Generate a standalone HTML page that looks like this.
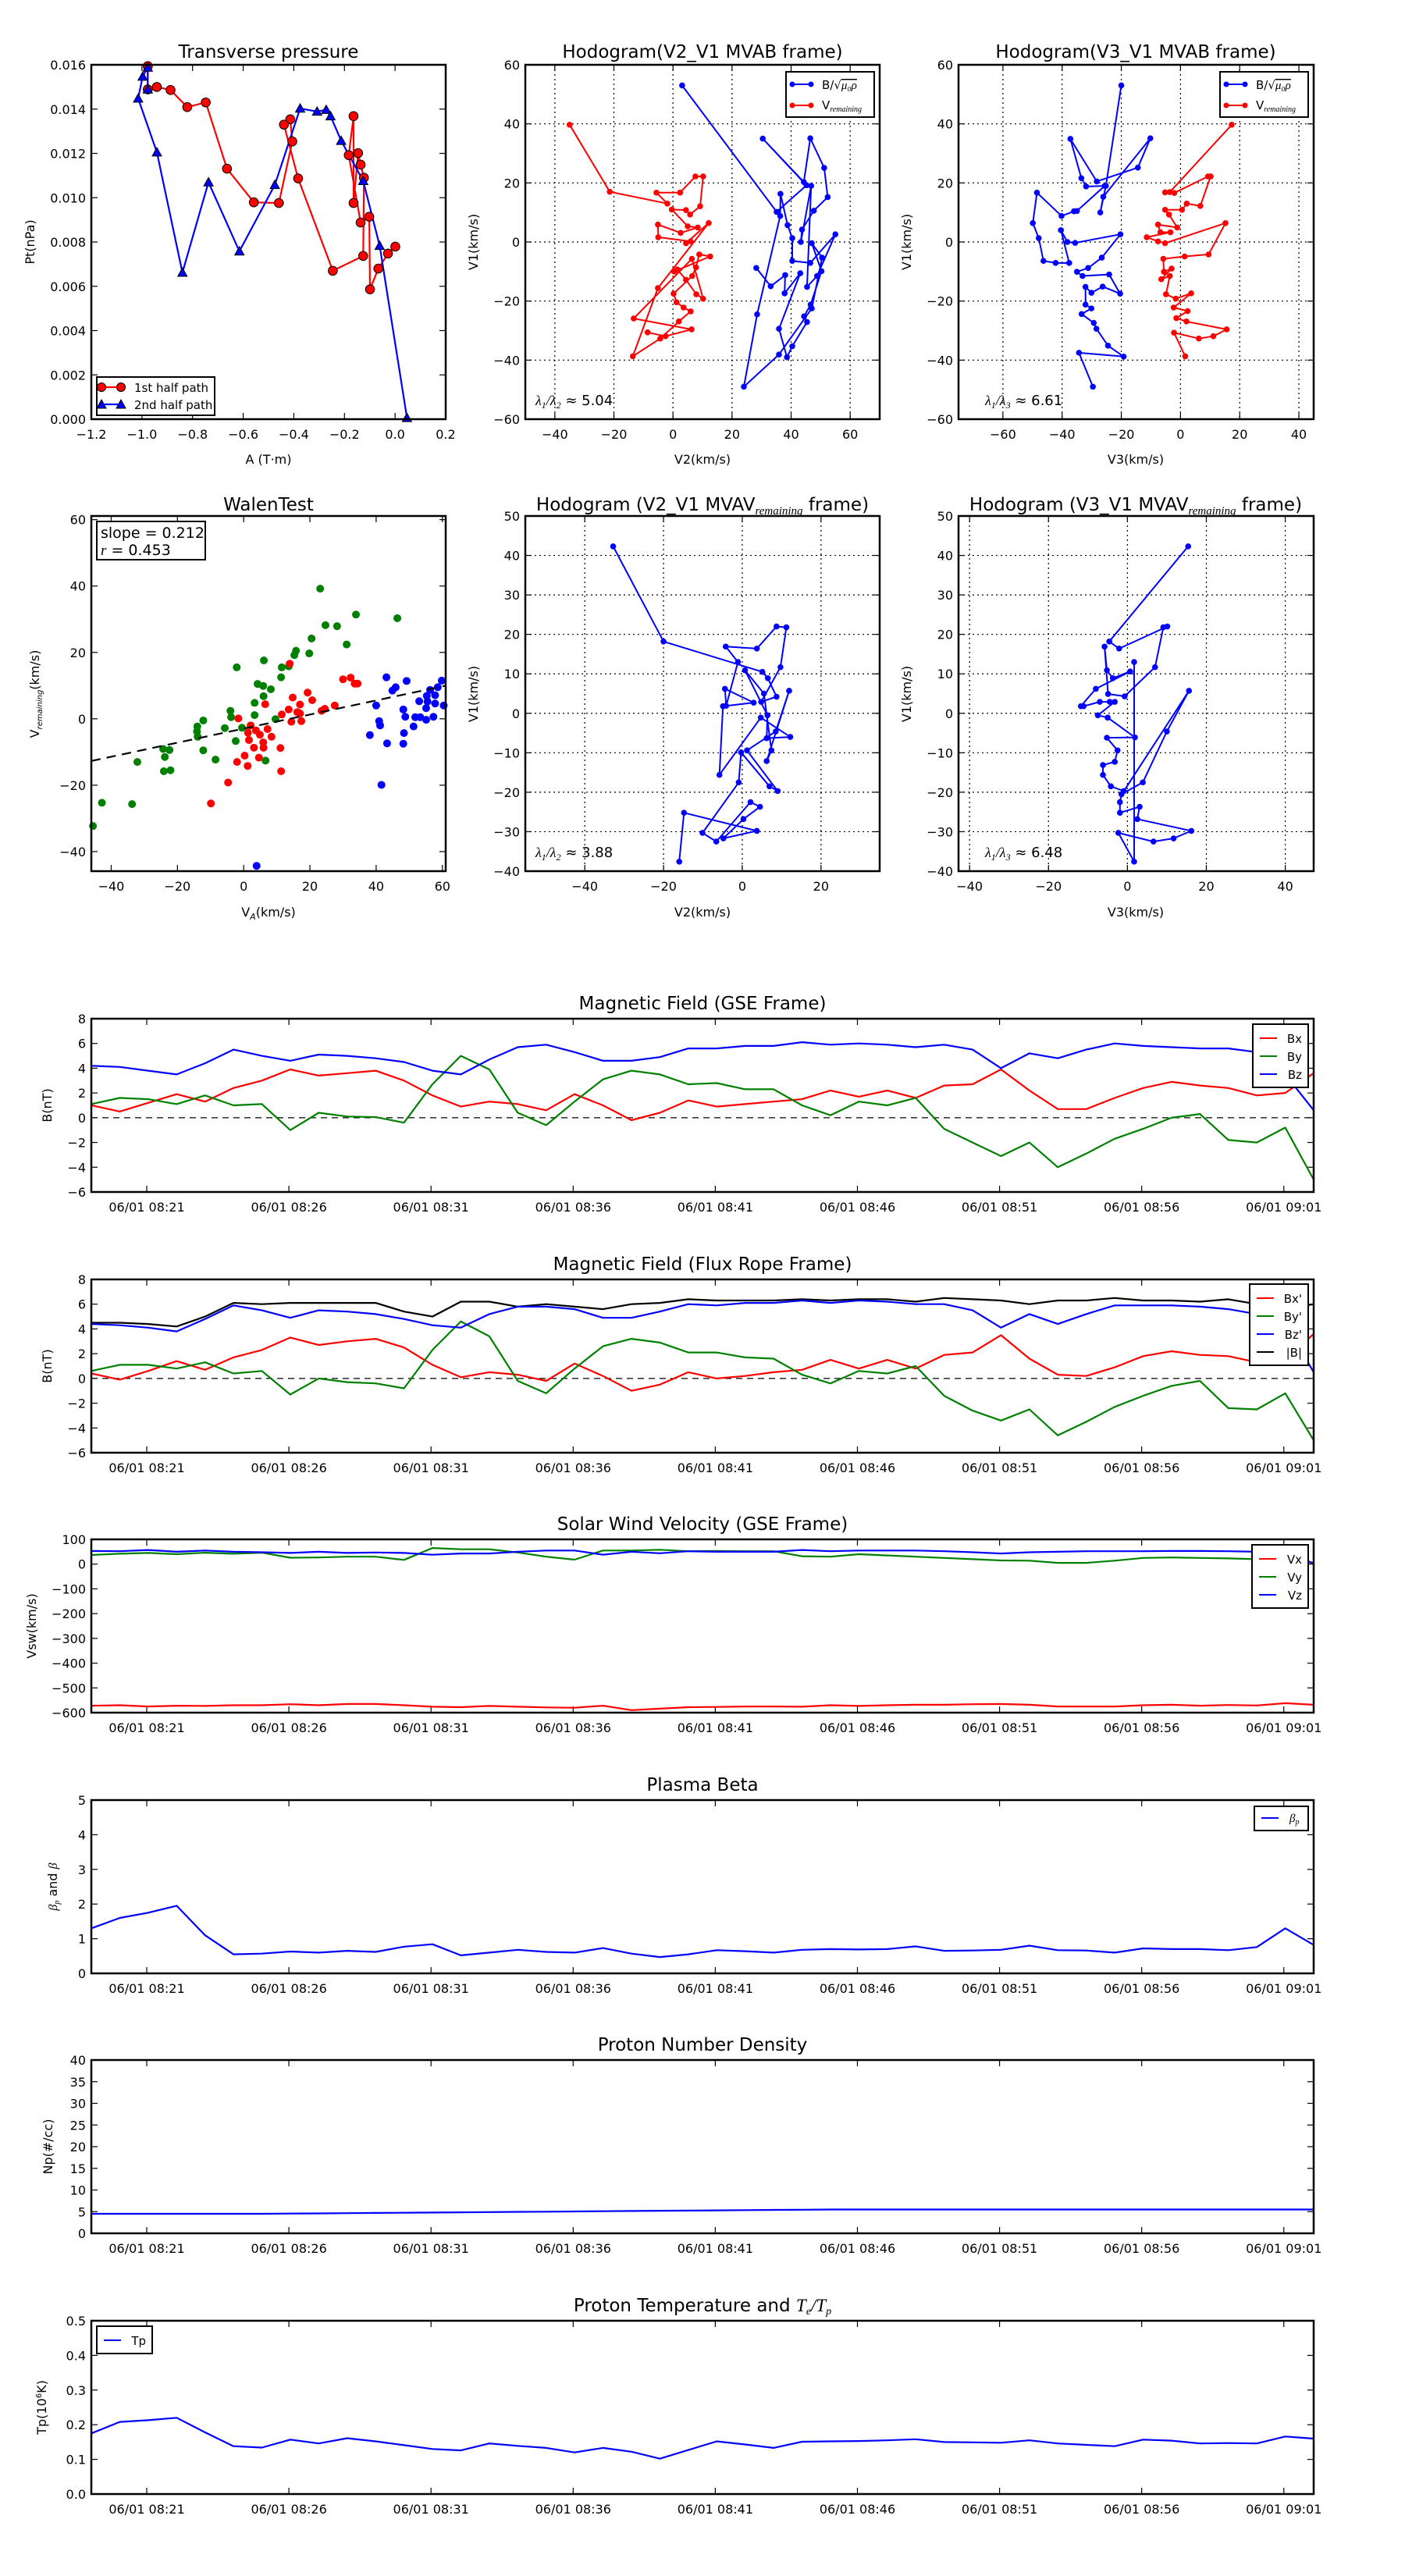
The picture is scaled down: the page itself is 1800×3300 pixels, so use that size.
<!DOCTYPE html>
<html><head><meta charset="utf-8">
<style>
html,body{margin:0;padding:0;background:#fff;}
svg{display:block;font-family:"DejaVu Sans","Liberation Sans",sans-serif;}
</style></head>
<body>
<svg id="fig" width="1800" height="3300" viewBox="0 0 1800 3300" xmlns="http://www.w3.org/2000/svg">
<rect x="0" y="0" width="1800" height="3300" fill="#fff"/>
</svg>
<script>
// ---------- time-series data (one sample per minute from ~08:19) ----------
const timeTickLabels = ["06/01 08:21","06/01 08:26","06/01 08:31","06/01 08:36","06/01 08:41","06/01 08:46","06/01 08:51","06/01 08:56","06/01 09:01"];
const bxGSE = [1.0,0.5,1.2,1.9,1.3,2.4,3.0,3.9,3.4,3.6,3.8,3.0,1.8,0.9,1.3,1.1,0.6,1.9,1.0,-0.2,0.4,1.4,0.9,1.1,1.3,1.5,2.2,1.7,2.2,1.6,2.6,2.7,3.9,2.2,0.7,0.7,1.6,2.4,2.9,2.6,2.4,1.8,2.0,3.6];
const byGSE = [1.1,1.6,1.5,1.1,1.8,1.0,1.1,-1.0,0.4,0.1,0.05,-0.4,2.7,5.0,3.9,0.4,-0.6,1.3,3.1,3.8,3.5,2.7,2.8,2.3,2.3,1.0,0.2,1.3,1.0,1.6,-0.9,-2.0,-3.1,-2.0,-4.0,-2.9,-1.7,-0.9,0.0,0.3,-1.8,-2.0,-0.8,-5.0];
const bzGSE = [4.2,4.1,3.8,3.5,4.4,5.5,5.0,4.6,5.1,5.0,4.8,4.5,3.8,3.5,4.7,5.7,5.9,5.3,4.6,4.6,4.9,5.6,5.6,5.8,5.8,6.1,5.9,6.0,5.9,5.7,5.9,5.5,4.0,5.2,4.8,5.5,6.0,5.8,5.7,5.6,5.6,5.3,3.5,0.6];
const bxFR = [0.4,-0.1,0.6,1.4,0.7,1.7,2.3,3.3,2.7,3.0,3.2,2.5,1.1,0.1,0.5,0.3,-0.2,1.2,0.2,-1.0,-0.5,0.5,0.0,0.2,0.5,0.7,1.5,0.8,1.5,0.8,1.9,2.1,3.5,1.6,0.3,0.2,0.9,1.8,2.2,1.9,1.8,1.3,1.5,3.6];
const byFR = [0.6,1.1,1.1,0.8,1.3,0.4,0.6,-1.3,0.0,-0.3,-0.4,-0.8,2.3,4.6,3.4,-0.2,-1.2,0.8,2.6,3.2,2.9,2.1,2.1,1.7,1.6,0.3,-0.4,0.6,0.4,1.0,-1.4,-2.6,-3.4,-2.5,-4.6,-3.5,-2.3,-1.4,-0.6,-0.2,-2.4,-2.5,-1.2,-5.0];
const bzFR = [4.4,4.3,4.1,3.8,4.8,5.9,5.5,4.9,5.5,5.4,5.2,4.8,4.3,4.1,5.2,5.8,5.8,5.6,4.9,4.9,5.4,6.0,5.9,6.1,6.1,6.3,6.1,6.3,6.2,6.0,6.0,5.5,4.1,5.2,4.4,5.2,5.9,5.9,5.9,5.8,5.6,5.2,4.5,0.5];
const bmagFR = [4.5,4.5,4.4,4.2,5.0,6.1,6.0,6.1,6.1,6.1,6.1,5.4,5.0,6.2,6.2,5.8,6.0,5.8,5.6,6.0,6.1,6.4,6.3,6.3,6.3,6.4,6.3,6.4,6.4,6.2,6.5,6.4,6.3,6.0,6.3,6.3,6.5,6.3,6.3,6.2,6.4,6.0,5.6,6.0];
const vxSW = [-572,-570,-575,-572,-573,-570,-570,-566,-570,-565,-565,-570,-576,-578,-573,-576,-579,-580,-572,-590,-584,-578,-577,-575,-575,-576,-570,-573,-570,-568,-568,-566,-565,-568,-575,-575,-575,-570,-568,-572,-569,-571,-562,-568];
const vySW = [37,42,45,40,46,42,46,26,27,30,30,17,65,60,60,47,30,18,55,55,58,52,53,52,52,32,30,40,35,30,25,20,15,14,5,5,14,25,27,25,23,20,18,5];
const vzSW = [53,52,57,50,55,50,48,45,50,45,47,45,38,43,43,50,55,55,38,50,44,52,50,50,50,57,52,55,55,55,52,48,43,48,50,52,52,52,53,53,52,50,48,3];
const betaP = [1.3,1.6,1.75,1.95,1.1,0.55,0.57,0.63,0.6,0.65,0.62,0.77,0.84,0.52,0.6,0.68,0.62,0.6,0.73,0.57,0.47,0.55,0.67,0.64,0.6,0.68,0.7,0.69,0.7,0.78,0.65,0.66,0.68,0.8,0.67,0.66,0.6,0.72,0.7,0.7,0.67,0.76,1.3,0.82];
const densityNp = [4.5,4.5,4.5,4.5,4.5,4.5,4.5,4.55,4.6,4.65,4.7,4.75,4.8,4.85,4.9,4.95,5.0,5.05,5.1,5.15,5.2,5.25,5.3,5.35,5.4,5.45,5.5,5.5,5.5,5.5,5.5,5.5,5.5,5.5,5.5,5.5,5.5,5.5,5.5,5.5,5.5,5.5,5.5,5.5];
const tempTp = [0.175,0.208,0.213,0.22,0.178,0.138,0.134,0.157,0.146,0.161,0.152,0.141,0.13,0.126,0.146,0.139,0.133,0.12,0.133,0.122,0.102,0.127,0.152,0.143,0.133,0.151,0.152,0.153,0.155,0.158,0.15,0.149,0.148,0.155,0.146,0.142,0.138,0.157,0.154,0.146,0.147,0.146,0.166,0.16];

// ---------- transverse pressure ----------
const ptRedA = [-0.977,-0.977,-0.941,-0.887,-0.821,-0.748,-0.664,-0.558,-0.459,-0.406,-0.414,-0.439,-0.383,-0.246,-0.126,-0.123,-0.136,-0.146,-0.164,-0.164,-0.183,-0.136,-0.102,-0.099,-0.066,-0.028,0.001];
const ptRedP = [0.01594,0.01489,0.01500,0.01486,0.01409,0.01430,0.01131,0.00979,0.00976,0.01254,0.01354,0.01330,0.01087,0.00670,0.00737,0.01090,0.01149,0.01201,0.00976,0.01368,0.01192,0.00888,0.00914,0.00586,0.00680,0.00748,0.00779];
const ptBlueA = [-0.977,-0.977,-0.997,-1.015,-0.941,-0.840,-0.737,-0.615,-0.475,-0.375,-0.308,-0.272,-0.255,-0.213,-0.126,-0.061,0.047];
const ptBlueP = [0.01489,0.01588,0.01547,0.01448,0.01205,0.00662,0.01070,0.00758,0.01058,0.01403,0.01389,0.01397,0.01368,0.01257,0.01076,0.00783,0.00006];

// ---------- hodogram MVAB V2-V1 ----------
const h2BlueX = [3.1,35.1,45.2,30.4,44.3,46.5,51.2,52.4,47.7,43.7,43.3,46.8,45.4,48.8,55.0,46.5,40.4,40.4,38.8,36.4,36.3,28.5,24.0,35.9,47.0,50.5,47.0,50.3,46.6,44.4,45.4,40.4,38.6,35.9,43.1,37.8,38.0,33.1,28.2];
const h2BlueY = [53.0,10.2,19.2,35.0,20.3,35.1,25.1,15.2,10.6,4.2,0.0,19.0,-15.2,-11.5,2.6,-7.1,-6.4,1.3,5.7,16.3,8.8,-24.5,-49.0,-38.1,-22.5,-5.3,-0.4,-9.9,-21.2,-25.2,-27.1,-35.3,-39.0,-29.4,-10.6,-17.4,-11.2,-15.0,-8.8];
const h2RedX = [-35.0,-21.4,-1.9,-5.6,2.4,7.6,10.2,9.2,5.8,4.4,-0.4,5.0,8.4,2.6,-5.1,-5.0,6.0,4.4,12.1,-5.1,-13.6,-4.3,2.0,6.0,3.6,1.2,0.2,6.5,7.8,8.9,12.6,0.4,1.5,4.4,7.9,10.2,6.4,-13.3,6.3,-2.5,-8.6];
const h2RedY = [39.7,17.0,13.0,16.7,16.7,22.2,22.2,12.1,9.3,10.8,11.0,5.3,4.9,3.1,5.9,1.6,0.2,-0.4,6.4,-15.6,-38.7,-32.7,-26.9,-23.5,-22.2,-20.4,-17.5,-11.5,-8.6,-4.2,-4.9,-10.0,-9.3,-12.8,-17.7,-19.2,-5.7,-25.9,-29.6,-31.9,-30.6];

// ---------- hodogram MVAB V3-V1 ----------
const h3BlueX = [-20.0,-25.2,-27.1,-26.1,-10.2,-14.4,-28.3,-37.2,-33.5,-31.9,-25.6,-35.0,-36.0,-40.2,-48.5,-49.9,-47.9,-46.3,-42.2,-37.6,-40.4,-38.2,-35.6,-20.3,-26.6,-31.2,-35.0,-33.1,-24.1,-20.4,-26.3,-30.1,-32.1,-32.1,-30.1,-33.4,-29.3,-28.4,-24.5,-19.2,-34.3,-29.6];
const h3BlueY = [53.0,19.0,10.0,15.3,35.1,25.2,20.5,34.9,21.6,18.8,19.0,10.5,10.4,8.8,16.7,6.4,1.3,-6.4,-7.1,-7.1,4.0,0.0,-0.3,2.6,-5.3,-8.8,-10.1,-11.5,-11.0,-17.5,-15.1,-17.2,-15.2,-21.2,-22.5,-24.4,-27.4,-29.4,-35.1,-38.8,-37.5,-49.0];
const h3RedX = [17.3,-3.6,-5.2,-2.1,9.3,10.2,6.7,2.1,0.5,-5.2,-3.9,-1.1,-7.6,-6.8,-3.4,-11.4,-7.6,-5.2,15.2,9.5,1.4,-5.8,-5.6,-3.0,-6.5,-3.6,-4.9,-1.6,3.6,-2.3,2.4,-1.4,2.0,15.6,11.1,6.2,-2.2,1.6];
const h3RedY = [39.7,16.9,16.8,16.6,22.2,22.2,12.2,13.0,10.9,10.9,9.3,4.9,5.9,3.3,3.3,1.6,0.2,-0.4,6.4,-4.2,-4.9,-5.7,-10.1,-9.0,-12.6,-11.5,-17.7,-19.2,-17.4,-22.2,-23.4,-25.8,-26.9,-29.6,-31.9,-32.7,-30.7,-38.7];

// ---------- Walen test ----------
const walenGreenX = [23.1,33.9,46.4,24.7,28.2,20.5,31.1,19.8,15.8,15.3,6.1,-2.1,11.5,13.6,11.3,4.2,5.9,8.2,6.0,3.3,-4.0,-3.8,3.3,9.6,-12.2,-14.0,-5.7,-0.5,-14.1,-13.9,-2.4,-24.3,-22.4,-23.8,-12.2,-8.5,6.6,-32.1,-24.1,-22.1,-42.8,-33.7,-45.5];
const walenGreenY = [39.2,31.4,30.3,28.2,27.9,24.2,22.4,19.7,20.5,19.2,17.6,15.5,15.5,15.8,12.5,10.5,9.9,8.9,6.8,4.8,2.4,0.5,1.1,-0.1,-0.5,-2.3,-2.8,-2.7,-3.8,-5.4,-6.7,-9.1,-9.4,-11.5,-9.5,-12.3,-12.6,-13.0,-15.8,-15.5,-25.3,-25.7,-32.3];
const walenRedX = [13.9,30.0,32.3,33.5,34.4,19.3,14.8,20.7,6.5,17.0,13.6,27.5,24.5,23.5,11.5,16.2,17.0,-1.6,14.4,17.4,2.1,7.2,3.7,1.3,4.9,8.4,1.6,5.9,6.0,3.1,11.1,0.3,-2.0,4.6,1.2,11.3,-4.7,-9.9];
const walenRedY = [16.6,11.9,12.4,10.6,10.6,7.9,6.4,5.6,4.4,4.3,2.8,4.0,3.0,2.4,1.3,2.0,1.6,0.1,-0.9,-0.7,-2.0,-3.1,-3.5,-4.2,-4.8,-5.4,-6.4,-7.1,-8.7,-8.7,-8.8,-11.1,-13.0,-11.7,-14.2,-15.8,-19.2,-25.5];
const walenBlueX = [43.1,49.2,45.9,44.9,59.8,58.6,56.3,57.8,55.3,53.0,55.5,57.8,55.1,60.4,40.0,48.2,48.8,51.8,53.3,55.1,57.3,40.9,41.2,51.3,48.4,38.1,43.3,48.2,41.6,3.9];
const walenBlueY = [12.5,11.4,9.5,8.5,11.5,9.5,8.7,7.1,6.9,5.3,5.2,4.6,3.2,4.0,4.0,2.8,0.6,0.5,0.5,-0.3,0.6,-0.7,-2.0,-2.3,-4.3,-4.9,-7.4,-7.5,-19.9,-44.3];
const walenSlope = [0.212];
const walenIntercept = [-2.95];

// ---------- hodogram MVAV V2-V1 ----------
const h5X = [-32.8,-20.0,5.1,6.5,8.7,4.8,9.7,11.2,8.7,3.7,-4.2,-1.1,-4.1,-4.4,2.9,-4.9,-5.8,4.7,12.2,6.2,6.4,0.7,5.5,7.4,6.2,11.9,8.5,1.2,9.0,6.9,-0.3,-0.9,-10.1,-6.6,2.1,4.5,0.3,-4.8,3.7,-14.8,-16.0];
const h5Y = [42.3,18.2,10.5,8.9,4.2,2.9,11.7,21.8,22.0,16.4,16.9,13.0,1.9,6.2,2.7,1.8,-15.6,-1.1,-6.0,-6.3,-0.5,10.9,5.0,-9.4,-12.1,5.7,-4.6,-9.4,-19.7,-18.5,-9.9,-17.5,-30.3,-32.5,-22.5,-23.7,-26.8,-31.7,-29.8,-25.2,-37.6];

// ---------- hodogram MVAV V3-V1 ----------
const h6X = [15.4,-4.6,-2.1,10.1,9.1,7.0,-0.7,-4.9,-5.8,-5.2,-3.7,0.7,-8.0,-11.8,-11.1,-7.0,-4.5,-3.2,-7.5,-5.0,1.9,-5.2,-2.5,-3.2,-6.2,-6.2,-4.2,-0.9,15.6,10.0,3.9,-1.5,-1.9,-1.9,3.1,2.5,16.2,11.7,6.6,-2.3,1.7,1.7];
const h6Y = [42.3,18.2,16.4,22.0,21.8,11.7,4.3,4.9,16.9,10.9,8.9,10.6,6.2,1.8,1.8,2.9,2.9,2.9,-0.5,-1.1,-6.1,-6.2,-9.4,-12.3,-13.1,-15.6,-18.5,-19.7,5.7,-4.6,-17.5,-20.5,-22.5,-25.2,-23.7,-26.8,-29.8,-31.7,-32.5,-30.3,-37.6,13.0];

// ---------- rendering ----------
const NS = "http://www.w3.org/2000/svg";
const svg = document.getElementById('fig');
function mk(tag, attrs, parent) {
  const e = document.createElementNS(NS, tag);
  for (const k in attrs) e.setAttribute(k, attrs[k]);
  (parent || svg).appendChild(e);
  return e;
}
function fmtMinus(s){ return String(s).replace('-', '\u2212'); }
function sx(p, v){ return p.x0 + (v - p.xmin) / (p.xmax - p.xmin) * (p.x1 - p.x0); }
function sy(p, v){ return p.y1 - (v - p.ymin) / (p.ymax - p.ymin) * (p.y1 - p.y0); }

function addText(x, y, str, size, anchor, name, extra) {
  const t = mk('text', Object.assign({x: x, y: y, 'font-size': size, 'text-anchor': anchor || 'middle', fill: '#000'}, extra || {}));
  t.textContent = str;
  
  
  return t;
}

function axesFrame(p, name) {
  const g = mk('g', {});
  
  
  p.g = g;
  return g;
}
function drawFrame(p) {
  const r = mk('rect', {x: p.x0, y: p.y0, width: p.x1 - p.x0, height: p.y1 - p.y0, fill: 'none', stroke: '#000', 'stroke-width': 2.5}, p.g);
  
  
}
function yTicks(p, vals, labels, grid) {
  vals.forEach((v, i) => {
    const y = sy(p, v);
    if (grid) {
      const gl = mk('line', {x1: p.x0, x2: p.x1, y1: y, y2: y, stroke: '#000', 'stroke-width': 1.2, 'stroke-dasharray': '2,4'}, p.g);
      
      
    }
    const t1 = mk('line', {x1: p.x0, x2: p.x0 + 8, y1: y, y2: y, stroke: '#000', 'stroke-width': 1.2}, p.g);
    
    
    const t2 = mk('line', {x1: p.x1 - 8, x2: p.x1, y1: y, y2: y, stroke: '#000', 'stroke-width': 1.2}, p.g);
    
    
    addText(p.x0 - 7, y + 6, fmtMinus(labels[i]), 16, 'end', 'y-tick-label');
  });
}
function xTicks(p, vals, labels, grid) {
  vals.forEach((v, i) => {
    const x = sx(p, v);
    if (grid) {
      const gl = mk('line', {x1: x, x2: x, y1: p.y0, y2: p.y1, stroke: '#000', 'stroke-width': 1.2, 'stroke-dasharray': '2,4'}, p.g);
      
      
    }
    const t1 = mk('line', {x1: x, x2: x, y1: p.y1, y2: p.y1 - 8, stroke: '#000', 'stroke-width': 1.2}, p.g);
    
    
    const t2 = mk('line', {x1: x, x2: x, y1: p.y0, y2: p.y0 + 8, stroke: '#000', 'stroke-width': 1.2}, p.g);
    
    
    addText(x, p.y1 + 25, fmtMinus(labels[i]), 16, 'middle', 'x-tick-label');
  });
}
function polyline(p, xs, ys, color, width, name) {
  const pts = xs.map((x, i) => sx(p, x).toFixed(1) + ',' + sy(p, ys[i]).toFixed(1)).join(' ');
  const l = mk('polyline', {points: pts, fill: 'none', stroke: color, 'stroke-width': width, 'stroke-linejoin': 'round'}, p.g);
  
  
  return l;
}
function dots(p, xs, ys, color, r, name, stroke) {
  xs.forEach((x, i) => {
    const c = mk('circle', {cx: sx(p, x), cy: sy(p, ys[i]), r: r, fill: color, stroke: stroke || 'none', 'stroke-width': 1}, p.g);
    
    
  });
}
function triangles(p, xs, ys, color, s, name) {
  xs.forEach((x, i) => {
    const cx = sx(p, x), cy = sy(p, ys[i]);
    const pts = [cx + ',' + (cy - s), (cx - s) + ',' + (cy + s * 0.8), (cx + s) + ',' + (cy + s * 0.8)].join(' ');
    const t = mk('polygon', {points: pts, fill: color, stroke: '#000', 'stroke-width': 1}, p.g);
    
    
  });
}
function rotLabel(x, y, str, name, size) {
  const t = addText(x, y, str, size || 16, 'middle', name, {transform: 'rotate(-90 ' + x + ' ' + y + ')'});
  return t;
}
function range(a, b, s){ const r=[]; for (let v=a; v<=b+1e-9; v+=s) r.push(+v.toFixed(6)); return r; }

// ====== Top row ======
const P1 = {x0:117,x1:571,y0:83,y1:537,xmin:-1.2,xmax:0.2,ymin:0,ymax:0.016};
axesFrame(P1, 'transverse-pressure-chart');
const p1y = range(0,0.016,0.002);
yTicks(P1, p1y, p1y.map(v=>v.toFixed(3)));
const p1x = range(-1.2,0.2,0.2);
xTicks(P1, p1x, p1x.map(v=>v.toFixed(1)));
polyline(P1, ptRedA, ptRedP, '#ff0000', 2.2, 'first-half-path-line');
polyline(P1, ptBlueA, ptBlueP, '#0000ff', 2.2, 'second-half-path-line');
dots(P1, ptRedA, ptRedP, '#ff0000', 5.8, 'first-half-point', '#000');
triangles(P1, ptBlueA, ptBlueP, '#0000ff', 6, 'second-half-point');
drawFrame(P1);
addText(344, 74, 'Transverse pressure', 23, 'middle', 'transverse-pressure-title');
addText(344, 594, 'A (T\u00b7m)', 16, 'middle', 'x-axis-title');
rotLabel(44, 310, 'Pt(nPa)', 'y-axis-title');
(function(){
  const g = mk('g', {});
  
  
  mk('rect', {x:124,y:483,width:151,height:49,fill:'#fff',stroke:'#000','stroke-width':2}, g);
  mk('line', {x1:129,x2:155,y1:496,y2:496,stroke:'#ff0000','stroke-width':2.2}, g);
  mk('circle', {cx:130,cy:496,r:5.5,fill:'#ff0000',stroke:'#000'}, g);
  mk('circle', {cx:155,cy:496,r:5.5,fill:'#ff0000',stroke:'#000'}, g);
  mk('line', {x1:129,x2:155,y1:518,y2:518,stroke:'#0000ff','stroke-width':2.2}, g);
  mk('polygon', {points:'130,512 124,523 136,523',fill:'#0000ff',stroke:'#000'}, g);
  mk('polygon', {points:'155,512 149,523 161,523',fill:'#0000ff',stroke:'#000'}, g);
  const t1 = mk('text', {x:172,y:502,'font-size':15}, g); t1.textContent = '1st half path';
  const t2 = mk('text', {x:172,y:524,'font-size':15}, g); t2.textContent = '2nd half path';
})();

function hodoLegend(x0, y0, name) {
  const g = mk('g', {});
  
  
  mk('rect', {x:x0,y:y0,width:113,height:58,fill:'#fff',stroke:'#000','stroke-width':2}, g);
  mk('line', {x1:x0+8,x2:x0+32,y1:y0+16,y2:y0+16,stroke:'#0000ff','stroke-width':2}, g);
  mk('circle', {cx:x0+8,cy:y0+16,r:3.5,fill:'#0000ff'}, g);
  mk('circle', {cx:x0+32,cy:y0+16,r:3.5,fill:'#0000ff'}, g);
  mk('line', {x1:x0+8,x2:x0+32,y1:y0+43,y2:y0+43,stroke:'#ff0000','stroke-width':2}, g);
  mk('circle', {cx:x0+8,cy:y0+43,r:3.5,fill:'#ff0000'}, g);
  mk('circle', {cx:x0+32,cy:y0+43,r:3.5,fill:'#ff0000'}, g);
  const t1 = mk('text', {x:x0+46,y:y0+22,'font-size':15}, g);
  t1.innerHTML = 'B/\u221a<tspan font-family="Liberation Serif,serif" font-style="italic" text-decoration="overline">\u03bc\u2080\u03c1</tspan>';
  const t2 = mk('text', {x:x0+46,y:y0+48,'font-size':15}, g);
  t2.innerHTML = 'V<tspan font-family="Liberation Serif,serif" font-style="italic" font-size="10" dy="3">remaining</tspan>';
}
function hodoFrame(p, name, xt, yt) {
  axesFrame(p, name);
  yTicks(p, yt, yt.map(v=>String(v)), true);
  xTicks(p, xt, xt.map(v=>String(v)), true);
}

const P2 = {x0:673,x1:1127,y0:83,y1:537,xmin:-50,xmax:70,ymin:-60,ymax:60};
hodoFrame(P2, 'hodogram-v2-v1-mvab', range(-40,60,20), range(-60,60,20));
polyline(P2, h2RedX, h2RedY, '#ff0000', 2, 'v-remaining-path');
dots(P2, h2RedX, h2RedY, '#ff0000', 3.8, 'v-remaining-point');
polyline(P2, h2BlueX, h2BlueY, '#0000ff', 2, 'b-alfven-path');
dots(P2, h2BlueX, h2BlueY, '#0000ff', 3.8, 'b-alfven-point');
drawFrame(P2);
hodoLegend(1007, 92, 'hodogram-v2-legend');
addText(900, 74, 'Hodogram(V2_V1 MVAB frame)', 23, 'middle', 'hodogram-v2-v1-title');
addText(900, 594, 'V2(km/s)', 16, 'middle', 'x-axis-title');
rotLabel(612, 310, 'V1(km/s)', 'y-axis-title');
(function(){ const t = addText(686, 519, '', 18, 'start', 'eigen-ratio-label');
  t.innerHTML = '<tspan font-family="Liberation Serif,serif" font-style="italic">\u03bb<tspan font-size="12" dy="4">1</tspan><tspan dy="-4">/\u03bb</tspan><tspan font-size="12" dy="4">2</tspan></tspan><tspan dy="-4"> \u2248 5.04</tspan>'; })();

const P3 = {x0:1228,x1:1683,y0:83,y1:537,xmin:-75,xmax:45,ymin:-60,ymax:60};
hodoFrame(P3, 'hodogram-v3-v1-mvab', range(-60,40,20), range(-60,60,20));
polyline(P3, h3BlueX, h3BlueY, '#0000ff', 2, 'b-alfven-path');
dots(P3, h3BlueX, h3BlueY, '#0000ff', 3.8, 'b-alfven-point');
polyline(P3, h3RedX, h3RedY, '#ff0000', 2, 'v-remaining-path');
dots(P3, h3RedX, h3RedY, '#ff0000', 3.8, 'v-remaining-point');
drawFrame(P3);
hodoLegend(1563, 92, 'hodogram-v3-legend');
addText(1455, 74, 'Hodogram(V3_V1 MVAB frame)', 23, 'middle', 'hodogram-v3-v1-title');
addText(1455, 594, 'V3(km/s)', 16, 'middle', 'x-axis-title');
rotLabel(1167, 310, 'V1(km/s)', 'y-axis-title');
(function(){ const t = addText(1262, 519, '', 18, 'start', 'eigen-ratio-label');
  t.innerHTML = '<tspan font-family="Liberation Serif,serif" font-style="italic">\u03bb<tspan font-size="12" dy="4">1</tspan><tspan dy="-4">/\u03bb</tspan><tspan font-size="12" dy="4">3</tspan></tspan><tspan dy="-4"> \u2248 6.61</tspan>'; })();

// ====== Second row ======
const P4 = {x0:117,x1:571,y0:661,y1:1116,xmin:-46,xmax:61,ymin:-45.9,ymax:61.1};
axesFrame(P4, 'walen-test-chart');
const p4t = range(-40,60,20);
yTicks(P4, p4t, p4t.map(String));
xTicks(P4, p4t, p4t.map(String));
dots(P4, walenGreenX, walenGreenY, '#008000', 5, 'walen-green-point');
dots(P4, walenRedX, walenRedY, '#ff0000', 5, 'walen-red-point');
dots(P4, walenBlueX, walenBlueY, '#0000ff', 5, 'walen-blue-point');
(function(){
  const xa = P4.xmin, xb = P4.xmax;
  const l = mk('line', {x1: sx(P4, xa), y1: sy(P4, walenSlope[0]*xa + walenIntercept[0]), x2: sx(P4, xb), y2: sy(P4, walenSlope[0]*xb + walenIntercept[0]), stroke:'#000','stroke-width':2.2,'stroke-dasharray':'12,8'}, P4.g);
  
  
})();
drawFrame(P4);
(function(){
  const g = mk('g', {});
  
  
  mk('rect', {x:124,y:668,width:139,height:49,fill:'#fff',stroke:'#000','stroke-width':2}, g);
  const t1 = mk('text', {x:129,y:689,'font-size':19}, g); t1.textContent = 'slope = 0.212';
  const t2 = mk('text', {x:129,y:711,'font-size':19}, g);
  t2.innerHTML = '<tspan font-family="Liberation Serif,serif" font-style="italic">r</tspan> = 0.453';
})();
addText(344, 654, 'WalenTest', 23, 'middle', 'walen-test-title');
(function(){ const t = addText(344, 1174, '', 16, 'middle', 'x-axis-title');
  t.innerHTML = 'V<tspan font-size="11" font-style="italic" dy="4">A</tspan><tspan dy="-4">(km/s)</tspan>'; })();
(function(){ const t = rotLabel(50, 889, '', 'y-axis-title');
  t.innerHTML = 'V<tspan font-size="10" font-style="italic" dy="4">remaining</tspan><tspan dy="-4">(km/s)</tspan>'; })();

const P5 = {x0:673,x1:1127,y0:661,y1:1116,xmin:-55.1,xmax:34.9,ymin:-40,ymax:50};
hodoFrame(P5, 'hodogram-v2-v1-mvav', range(-40,20,20), range(-40,50,10));
polyline(P5, h5X, h5Y, '#0000ff', 2, 'hodogram-path');
dots(P5, h5X, h5Y, '#0000ff', 3.8, 'hodogram-point');
drawFrame(P5);
(function(){ const t = addText(900, 654, '', 23, 'middle', 'hodogram-v2-mvav-title');
  t.innerHTML = 'Hodogram (V2_V1 MVAV<tspan font-family="Liberation Serif,serif" font-style="italic" font-size="15" dy="5">remaining</tspan><tspan dy="-5"> frame)</tspan>'; })();
addText(900, 1174, 'V2(km/s)', 16, 'middle', 'x-axis-title');
rotLabel(612, 889, 'V1(km/s)', 'y-axis-title');
(function(){ const t = addText(686, 1098, '', 18, 'start', 'eigen-ratio-label');
  t.innerHTML = '<tspan font-family="Liberation Serif,serif" font-style="italic">\u03bb<tspan font-size="12" dy="4">1</tspan><tspan dy="-4">/\u03bb</tspan><tspan font-size="12" dy="4">2</tspan></tspan><tspan dy="-4"> \u2248 3.88</tspan>'; })();

const P6 = {x0:1228,x1:1683,y0:661,y1:1116,xmin:-42.8,xmax:47.2,ymin:-40,ymax:50};
hodoFrame(P6, 'hodogram-v3-v1-mvav', range(-40,40,20), range(-40,50,10));
polyline(P6, h6X, h6Y, '#0000ff', 2, 'hodogram-path');
dots(P6, h6X, h6Y, '#0000ff', 3.8, 'hodogram-point');
drawFrame(P6);
(function(){ const t = addText(1455, 654, '', 23, 'middle', 'hodogram-v3-mvav-title');
  t.innerHTML = 'Hodogram (V3_V1 MVAV<tspan font-family="Liberation Serif,serif" font-style="italic" font-size="15" dy="5">remaining</tspan><tspan dy="-5"> frame)</tspan>'; })();
addText(1455, 1174, 'V3(km/s)', 16, 'middle', 'x-axis-title');
rotLabel(1167, 889, 'V1(km/s)', 'y-axis-title');
(function(){ const t = addText(1262, 1098, '', 18, 'start', 'eigen-ratio-label');
  t.innerHTML = '<tspan font-family="Liberation Serif,serif" font-style="italic">\u03bb<tspan font-size="12" dy="4">1</tspan><tspan dy="-4">/\u03bb</tspan><tspan font-size="12" dy="4">3</tspan></tspan><tspan dy="-4"> \u2248 6.48</tspan>'; })();

// ====== Time series panels ======
const tickIdx = timeTickLabels.map((_, k) => 1.95 + 5 * k);
const idx = bxGSE.map((_, i) => i);
function timePanel(y0, ymin, ymax, yvals, ylabels, name) {
  const p = {x0:117,x1:1683,y0:y0,y1:y0+222,xmin:0,xmax:43,ymin:ymin,ymax:ymax};
  axesFrame(p, name);
  yTicks(p, yvals, ylabels);
  xTicks(p, tickIdx, timeTickLabels);
  return p;
}
function zeroLine(p) {
  const l = mk('line', {x1:p.x0,x2:p.x1,y1:sy(p,0),y2:sy(p,0),stroke:'#000','stroke-width':1.2,'stroke-dasharray':'8,6'}, p.g);
  
  
}
function tsLegend(x0, y0, w, entries, name) {
  const g = mk('g', {});
  
  
  const h = 12 + entries.length * 23;
  mk('rect', {x:x0,y:y0,width:w,height:h,fill:'#fff',stroke:'#000','stroke-width':2}, g);
  entries.forEach((e, i) => {
    const yy = y0 + 18 + i * 23;
    mk('line', {x1:x0+9,x2:x0+31,y1:yy,y2:yy,stroke:e[1],'stroke-width':2}, g);
    const t = mk('text', {x:x0+w-8,y:yy+6,'font-size':15,'text-anchor':'end'}, g);
    t.innerHTML = e[0];
  });
}
const gseTicks = range(-6,8,2);
const PG = timePanel(1305, -6, 8, gseTicks, gseTicks.map(String), 'magnetic-field-gse-chart');
zeroLine(PG);
polyline(PG, idx, bxGSE, '#ff0000', 2.2, 'bx-line');
polyline(PG, idx, byGSE, '#008000', 2.2, 'by-line');
polyline(PG, idx, bzGSE, '#0000ff', 2.2, 'bz-line');
drawFrame(PG);
tsLegend(1605, 1312, 71, [['Bx','#ff0000'],['By','#008000'],['Bz','#0000ff']], 'gse-legend');
addText(900, 1293, 'Magnetic Field (GSE Frame)', 23, 'middle', 'magnetic-field-gse-title');
rotLabel(66, 1416, 'B(nT)', 'y-axis-title');

const PF = timePanel(1639, -6, 8, gseTicks, gseTicks.map(String), 'magnetic-field-flux-rope-chart');
zeroLine(PF);
polyline(PF, idx, bmagFR, '#000000', 2.2, 'bmag-line');
polyline(PF, idx, bxFR, '#ff0000', 2.2, 'bx-prime-line');
polyline(PF, idx, byFR, '#008000', 2.2, 'by-prime-line');
polyline(PF, idx, bzFR, '#0000ff', 2.2, 'bz-prime-line');
drawFrame(PF);
tsLegend(1601, 1645, 75, [["Bx'",'#ff0000'],["By'",'#008000'],["Bz'",'#0000ff'],['|B|','#000']], 'flux-rope-legend');
addText(900, 1627, 'Magnetic Field (Flux Rope Frame)', 23, 'middle', 'magnetic-field-flux-rope-title');
rotLabel(66, 1750, 'B(nT)', 'y-axis-title');

const swTicks = range(-600,100,100);
const PS = timePanel(1972, -600, 100, swTicks, swTicks.map(String), 'solar-wind-velocity-chart');
polyline(PS, idx, vxSW, '#ff0000', 2.2, 'vx-line');
polyline(PS, idx, vySW, '#008000', 2.2, 'vy-line');
polyline(PS, idx, vzSW, '#0000ff', 2.2, 'vz-line');
drawFrame(PS);
tsLegend(1604, 1979, 72, [['Vx','#ff0000'],['Vy','#008000'],['Vz','#0000ff']], 'velocity-legend');
addText(900, 1960, 'Solar Wind Velocity (GSE Frame)', 23, 'middle', 'solar-wind-velocity-title');
rotLabel(46, 2083, 'Vsw(km/s)', 'y-axis-title');

const betaTicks = range(0,5,1);
const PB = timePanel(2306, 0, 5, betaTicks, betaTicks.map(String), 'plasma-beta-chart');
polyline(PB, idx, betaP, '#0000ff', 2.2, 'beta-p-line');
drawFrame(PB);
(function(){
  const g = mk('g', {});
  
  
  mk('rect', {x:1607,y:2314,width:69,height:31,fill:'#fff',stroke:'#000','stroke-width':2}, g);
  mk('line', {x1:1616,x2:1638,y1:2329,y2:2329,stroke:'#0000ff','stroke-width':2}, g);
  const t = mk('text', {x:1652,y:2334,'font-size':15,'font-style':'italic','font-family':'Liberation Serif,serif'}, g);
  t.innerHTML = '\u03b2<tspan font-size="10" dy="3">p</tspan>';
})();
addText(900, 2294, 'Plasma Beta', 23, 'middle', 'plasma-beta-title');
(function(){ const t = rotLabel(73, 2417, '', 'y-axis-title');
  t.innerHTML = '<tspan font-style="italic" font-family="Liberation Serif,serif">\u03b2<tspan font-size="10" dy="3">p</tspan></tspan><tspan dy="-3"> and </tspan><tspan font-style="italic" font-family="Liberation Serif,serif">\u03b2</tspan>'; })();

const npTicks = range(0,40,5);
const PN = timePanel(2639, 0, 40, npTicks, npTicks.map(String), 'proton-density-chart');
polyline(PN, idx, densityNp, '#0000ff', 2.2, 'np-line');
drawFrame(PN);
addText(900, 2627, 'Proton Number Density', 23, 'middle', 'proton-density-title');
rotLabel(67, 2750, 'Np(#/cc)', 'y-axis-title');

const tpTicks = range(0,0.5,0.1);
const PT = timePanel(2973, 0, 0.5, tpTicks, tpTicks.map(v=>v.toFixed(1)), 'proton-temperature-chart');
polyline(PT, idx, tempTp, '#0000ff', 2.2, 'tp-line');
drawFrame(PT);
tsLegend(124, 2980, 71, [['Tp','#0000ff']], 'tp-legend');
(function(){ const t = addText(900, 2961, '', 23, 'middle', 'proton-temperature-title');
  t.innerHTML = 'Proton Temperature and <tspan font-family="Liberation Serif,serif" font-style="italic">T<tspan font-size="14" dy="4">e</tspan><tspan dy="-4">/T</tspan><tspan font-size="14" dy="4">p</tspan></tspan>'; })();
(function(){ const t = rotLabel(59, 3084, '', 'y-axis-title');
  t.innerHTML = 'Tp(10<tspan font-size="10" dy="-6">6</tspan><tspan dy="6">K)</tspan>'; })();
</script>
</body></html>
